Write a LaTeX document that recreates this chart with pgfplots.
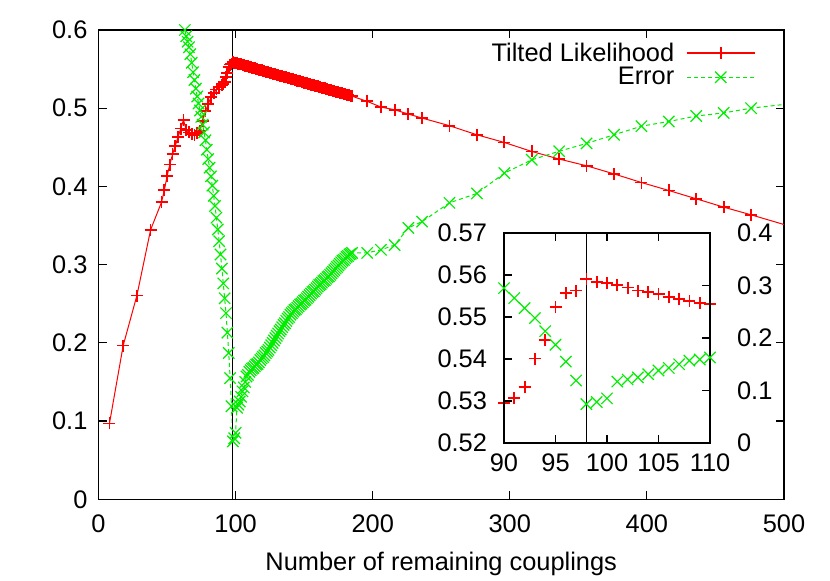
\documentclass[border=0pt]{standalone}
\usepackage{fontspec}
\setmainfont{Liberation Sans}
\usepackage{pgfplots}
\pgfplotsset{compat=1.18}
\usepackage{pgfplotstable}

\definecolor{gpred}{rgb}{1,0,0}
\definecolor{gpgreen}{rgb}{0,0.93,0}

% marks that set their own stroke colour
\makeatletter
\pgfdeclareplotmark{gpplus}{%
  \pgfsys@invoke{1 0 0 RG}%
  \pgfsetlinewidth{0.9pt}%
  \pgfpathmoveto{\pgfqpoint{-\pgfplotmarksize}{0pt}}%
  \pgfpathlineto{\pgfqpoint{\pgfplotmarksize}{0pt}}%
  \pgfpathmoveto{\pgfqpoint{0pt}{-\pgfplotmarksize}}%
  \pgfpathlineto{\pgfqpoint{0pt}{\pgfplotmarksize}}%
  \pgfusepathqstroke}
\pgfdeclareplotmark{gpcross}{%
  \pgfsys@invoke{0 0.93 0 RG}%
  \pgfsetlinewidth{0.6pt}%
  \pgfsetdash{}{0pt}%
  \pgfpathmoveto{\pgfqpoint{-.70710678\pgfplotmarksize}{-.70710678\pgfplotmarksize}}%
  \pgfpathlineto{\pgfqpoint{.70710678\pgfplotmarksize}{.70710678\pgfplotmarksize}}%
  \pgfpathmoveto{\pgfqpoint{-.70710678\pgfplotmarksize}{.70710678\pgfplotmarksize}}%
  \pgfpathlineto{\pgfqpoint{.70710678\pgfplotmarksize}{-.70710678\pgfplotmarksize}}%
  \pgfusepathqstroke}
\newcommand\gpredstroke{\pgfsys@invoke{1 0 0 RG}}
\newcommand\gpgreenstroke{\pgfsys@invoke{0 0.93 0 RG}}
\makeatother

% Tilted likelihood
\pgfplotstableread{
x y
8 0.097
18 0.1965
28 0.2605
38 0.3445
46 0.380
48 0.395
50 0.413
52 0.428
54 0.441
56 0.452
58 0.463
60 0.474
62 0.485
64 0.472
66 0.469
68 0.467
70 0.466
72 0.468
74 0.471
76 0.484
78 0.496
80 0.505
82 0.514
84 0.519
86 0.524
88 0.527
90 0.5296
91 0.5307
92 0.5334
93 0.5401
94 0.5445
95 0.5523
96 0.5558
97 0.5563
98 0.5590
99 0.5584
100 0.5580
101 0.5576
102 0.5570
103 0.5563
104 0.5560
105 0.5554
106 0.5547
107 0.5542
108 0.5539
109 0.5534
110 0.5530
111 0.5525
112 0.5519
113 0.5515
114 0.5509
115 0.5504
116 0.5499
117 0.5494
118 0.5489
119 0.5484
120 0.5479
121 0.5474
122 0.5469
123 0.5464
124 0.5458
125 0.5453
126 0.5448
127 0.5443
128 0.5438
129 0.5433
130 0.5428
131 0.5423
132 0.5418
133 0.5413
134 0.5408
135 0.5403
136 0.5398
137 0.5393
138 0.5388
139 0.5383
140 0.5378
141 0.5373
142 0.5368
143 0.5363
144 0.5358
145 0.5353
146 0.5348
147 0.5343
148 0.5338
149 0.5333
150 0.5328
151 0.5323
152 0.5318
153 0.5313
154 0.5308
155 0.5303
156 0.5298
157 0.5293
158 0.5288
159 0.5283
160 0.5278
161 0.5273
162 0.5268
163 0.5263
164 0.5258
165 0.5253
166 0.5248
167 0.5243
168 0.5238
169 0.5233
170 0.5228
171 0.5223
172 0.5218
173 0.5213
174 0.5208
175 0.5203
176 0.5198
177 0.5193
178 0.5188
179 0.5183
180 0.5178
181 0.5173
182 0.5168
183 0.5163
184 0.5158
185 0.5153
196 0.5087
206 0.5015
216 0.4980
226 0.4925
236 0.4874
256 0.4776
276 0.4660
296 0.4562
316 0.4447
336 0.4350
356 0.4264
376 0.4160
396 0.4050
416 0.3948
436 0.3842
456 0.3735
476 0.3637
516 0.3430
}\likelihood

% Error
\pgfplotstableread{
x y
60 0.635
61 0.625
62 0.612
63 0.600
64 0.592
65 0.585
66 0.578
67 0.569
68 0.558
69 0.546
70 0.536
71 0.525
72 0.515
73 0.506
74 0.497
75 0.489
76 0.479
77 0.469
78 0.459
79 0.447
80 0.435
81 0.424
82 0.413
83 0.401
84 0.388
85 0.375
86 0.360
87 0.345
88 0.330
89 0.313
90 0.295
91 0.276
92 0.257
93 0.238
94 0.213
95 0.187
96 0.155
97 0.119
98 0.074
99 0.078
100 0.085
101 0.117
102 0.121
103 0.125
104 0.131
105 0.138
106 0.143
107 0.150
108 0.157
109 0.159
110 0.163
111 0.165
112 0.167
113 0.168
114 0.170
115 0.172
116 0.173
117 0.175
118 0.178
119 0.180
120 0.182
121 0.184
122 0.187
123 0.189
124 0.191
125 0.194
126 0.197
127 0.200
128 0.203
129 0.206
130 0.209
131 0.212
132 0.215
133 0.217
134 0.220
135 0.223
136 0.225
137 0.228
138 0.231
139 0.233
140 0.236
141 0.238
142 0.240
143 0.242
144 0.243
145 0.245
146 0.247
147 0.249
148 0.250
149 0.252
150 0.254
151 0.255
152 0.257
153 0.259
154 0.261
155 0.263
156 0.265
157 0.266
158 0.268
159 0.270
160 0.272
161 0.274
162 0.275
163 0.277
164 0.279
165 0.280
166 0.282
167 0.284
168 0.285
169 0.287
170 0.289
171 0.291
172 0.293
173 0.295
174 0.297
175 0.299
176 0.301
177 0.303
178 0.305
179 0.306
180 0.308
181 0.310
182 0.311
183 0.313
184 0.314
185 0.315
196 0.315
206 0.319
216 0.325
226 0.347
236 0.355
256 0.379
276 0.391
296 0.417
316 0.434
336 0.445
356 0.455
376 0.466
396 0.477
416 0.483
436 0.490
456 0.494
476 0.500
516 0.508
}\errortab

\pgfplotsset{
  gp/.style={
    scale only axis,
    /pgf/number format/assume math mode=true,
    axis line style={line width=0.6pt},
    every tick/.style={line width=0.6pt},
    major tick length=4pt,
    tick align=inside,
  },
  lik/.style={color=gpred, line width=0.5pt, mark=gpplus, mark size=3pt,
    legend image code/.code={
      \path (0pt,0pt);
      \gpredstroke
      \draw[line width=0.9pt] (4pt,0.25pt) -- (38pt,0.25pt);
      \draw[mark=gpplus, mark size=3pt] plot coordinates {(21pt,0.25pt)};
    }},
  err/.style={color=gpgreen, line width=0.5pt, dash pattern=on 2pt off 1.5pt,
    mark=gpcross, mark size=4pt, mark options={solid},
    legend image code/.code={
      \path (0pt,0pt);
      \gpgreenstroke
      \draw[line width=0.5pt, dash pattern=on 2pt off 1.5pt] (4pt,0pt) -- (38pt,0pt);
      \draw[mark=gpcross, mark size=4pt] plot coordinates {(21pt,0pt)};
    }},
}

\begin{document}
\begin{tikzpicture}[font=\fontsize{12.7}{15}\selectfont]
\useasboundingbox (-49.25pt,-40.85pt) rectangle (365.75pt,249.65pt);
\begin{axis}[
  gp,
  width=342.75pt, height=234.65pt,
  xmin=0, xmax=500, ymin=0, ymax=0.6,
  xtick={0,100,200,300,400,500},
  ytick={0,0.1,0.2,0.3,0.4,0.5,0.6},
  yticklabel style={xshift=-2pt},
  xticklabel style={yshift=-4pt},
  xlabel={Number of remaining couplings},
  xlabel style={yshift=-3pt},
  legend plot pos=right,
  legend cell align=right,
  legend style={draw=none, fill=none, at={(0.968,0.991)}, anchor=north east,
    font=\fontsize{12.7}{15}\selectfont, row sep=-2.5pt},
]
\addplot[lik] table {\likelihood};
\addlegendentry{Tilted Likelihood}
\addplot[err] table {\errortab};
\addlegendentry{Error}
\draw[line width=0.5pt] (98,0) -- (98,0.6);
\end{axis}

% inset, left scale: tilted likelihood
\begin{axis}[
  gp,
  at={(202.75pt,28.15pt)}, anchor=south west,
  width=103pt, height=105pt,
  xmin=90, xmax=110, ymin=0.52, ymax=0.57,
  xtick={90,95,100,105,110},
  ytick={0.52,0.53,0.54,0.55,0.56,0.57},
  yticklabel style={/pgf/number format/fixed, /pgf/number format/fixed zerofill,
    /pgf/number format/precision=2, xshift=-5pt},
  xticklabel style={yshift=-2pt},
  ytick pos=left,
]
\addplot[color=gpred, only marks, mark=gpplus, mark size=3pt]
  table[restrict x to domain=89:111] {\likelihood};
\draw[line width=0.5pt] (98,0.52) -- (98,0.57);
\end{axis}

% inset, right scale: error
\begin{axis}[
  gp,
  at={(202.75pt,28.15pt)}, anchor=south west,
  width=103pt, height=105pt,
  xmin=90, xmax=110, ymin=0, ymax=0.4,
  xtick=\empty,
  ytick={0,0.1,0.2,0.3,0.4},
  ytick pos=right,
  yticklabel pos=right,
  yticklabel style={xshift=10pt},
]
\addplot[color=gpgreen, only marks, mark=gpcross, mark size=4pt]
  table[restrict x to domain=89:111] {\errortab};
\end{axis}
\end{tikzpicture}
\end{document}
